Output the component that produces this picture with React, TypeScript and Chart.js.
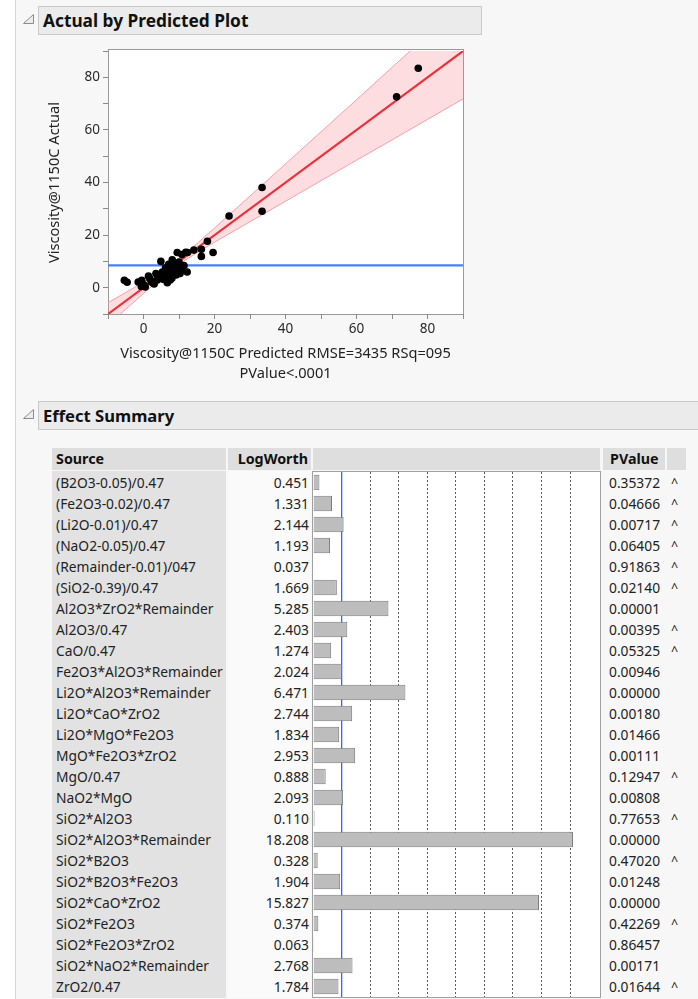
import React, { useEffect, useRef } from 'react';
import { Chart, registerables } from 'chart.js';

Chart.register(...registerables);

const FONT = '"Noto Sans", "Open Sans", sans-serif';
const TEXT = '#222222';

// ---------- Actual by Predicted data ----------
const predicted = [
  77.4, 71.3, 33.4, 33.4, 24.1, 18.0, 19.6, 16.3, 16.3, 14.2, 12.4, 10.8, 9.5, 11.9,
  -5.4, -4.6, -1.5, -0.5, 0.2, -0.6, 0.5, 1.4, 1.8, 2.6, 3.0, 3.5, 3.9, 4.2, 4.9, 5.3,
  5.5, 5.8, 6.2, 6.3, 6.6, 6.7, 6.9, 7.1, 7.3, 7.6, 7.9, 8.1, 8.3, 8.5, 8.8, 9.1, 9.3,
  9.6, 10.0, 10.3, 10.5, 10.9, 11.4, 12.3, 7.5, 5.0, 4.0, 2.2, 8.0,
];
const actual = [
  83.5, 72.6, 38.1, 29.1, 27.3, 17.7, 13.4, 14.6, 11.9, 14.3, 13.4, 12.6, 13.4, 13.5,
  2.8, 2.1, 2.2, 2.8, 1.0, 0.5, 0.3, 4.4, 3.4, 1.9, 1.4, 5.4, 2.9, 4.0, 10.0, 6.0,
  3.2, 4.3, 7.6, 2.9, 5.4, 1.9, 6.4, 8.9, 4.4, 7.3, 5.8, 10.6, 8.0, 6.6, 9.3, 6.8, 4.9,
  8.5, 9.8, 5.4, 7.8, 6.6, 8.4, 6.0, 2.9, 3.8, 3.3, 2.3, 3.6,
];
const fitX = [-10, 90];
const fitY = [-10, 90];
const meanActual = 8.5;
const bandX = [-10, -5, 0, 5, 8.6, 10, 15, 20, 30, 40, 50, 60, 70, 80, 90];
const bandLower = [-14.3, -8.2, -2.2, 3.7, 7.6, 8.95, 13.25, 17.3, 25.1, 32.9, 40.7, 48.5, 56.2, 64.0, 71.8];
const bandUpper = [-5.7, -1.8, 2.2, 6.3, 9.6, 11.05, 16.75, 22.7, 34.9, 47.1, 59.3, 71.5, 83.8, 96.0, 108.2];
const axisMin = -10;
const axisMax = 90;
const xTitle = ['Viscosity@1150C Predicted RMSE=3435 RSq=095', 'PValue<.0001'];
const yTitle = 'Viscosity@1150C Actual';

// ---------- Effect Summary data ----------
const sources = [
  '(B2O3-0.05)/0.47', '(Fe2O3-0.02)/0.47', '(Li2O-0.01)/0.47', '(NaO2-0.05)/0.47',
  '(Remainder-0.01)/047', '(SiO2-0.39)/0.47', 'Al2O3*ZrO2*Remainder', 'Al2O3/0.47',
  'CaO/0.47', 'Fe2O3*Al2O3*Remainder', 'Li2O*Al2O3*Remainder', 'Li2O*CaO*ZrO2',
  'Li2O*MgO*Fe2O3', 'MgO*Fe2O3*ZrO2', 'MgO/0.47', 'NaO2*MgO', 'SiO2*Al2O3',
  'SiO2*Al2O3*Remainder', 'SiO2*B2O3', 'SiO2*B2O3*Fe2O3', 'SiO2*CaO*ZrO2', 'SiO2*Fe2O3',
  'SiO2*Fe2O3*ZrO2', 'SiO2*NaO2*Remainder', 'ZrO2/0.47',
];
const logWorth = [
  0.451, 1.331, 2.144, 1.193, 0.037, 1.669, 5.285, 2.403, 1.274, 2.024, 6.471, 2.744,
  1.834, 2.953, 0.888, 2.093, 0.110, 18.208, 0.328, 1.904, 15.827, 0.374, 0.063, 2.768, 1.784,
];
const pValues = [
  '0.35372', '0.04666', '0.00717', '0.06405', '0.91863', '0.02140', '0.00001', '0.00395',
  '0.05325', '0.00946', '0.00000', '0.00180', '0.01466', '0.00111', '0.12947', '0.00808',
  '0.77653', '0.00000', '0.47020', '0.01248', '0.00000', '0.42269', '0.86457', '0.00171', '0.01644',
];
const containing = [
  true, true, true, true, true, true, false, true, true, false, false, false, false, false,
  true, false, true, false, true, false, false, true, false, false, true,
];
const logWorthMax = 20.1;
const logWorthRef = 2;

function Tri({ x, y }: { x: number; y: number }) {
  return (
    <svg style={{ position: 'absolute', left: x, top: y }} width={13} height={12}>
      <polygon points="1.5,10.5 11.5,1.5 11.5,10.5" fill="#ececec" stroke="#8c8c8c" strokeWidth={1} />
    </svg>
  );
}

function SectionHeader({ top, width, text, size }: { top: number; width: number; text: string; size: number }) {
  return (
    <>
      <Tri x={22} y={top + 7} />
      <div
        style={{
          position: 'absolute', left: 38, top, width, height: 29, boxSizing: 'border-box',
          background: '#ebebeb', border: '1px solid #c9c9c9', fontFamily: FONT, fontWeight: 700,
          fontSize: size, lineHeight: '27px', paddingLeft: 4, color: '#111', whiteSpace: 'nowrap',
        }}
      >
        {text}
      </div>
    </>
  );
}

function ScatterChart() {
  const ref = useRef<HTMLCanvasElement | null>(null);
  useEffect(() => {
    if (!ref.current) return;
    const pts = predicted.map((p, i) => ({ x: p, y: actual[i] }));
    const tickCb = (v: any) => {
      const n = Number(v);
      return n % 20 === 0 && n >= 0 && n <= 80 ? String(n) : '';
    };
    const chart = new Chart(ref.current, {
      type: 'line',
      data: {
        datasets: [
          {
            label: 'points', data: pts, showLine: false, pointRadius: 3.8, pointBackgroundColor: '#000',
            pointBorderWidth: 0, borderColor: '#000', order: 0,
          } as any,
          {
            label: 'mean', data: [{ x: axisMin, y: meanActual }, { x: axisMax, y: meanActual }],
            borderColor: '#4a7ff2', borderWidth: 2.2, pointRadius: 0, order: 1,
          },
          {
            label: 'fit', data: fitX.map((x, i) => ({ x, y: fitY[i] })),
            borderColor: '#e8333c', borderWidth: 2.2, pointRadius: 0, order: 2,
          },
          {
            label: 'lower', data: bandX.map((x, i) => ({ x, y: bandLower[i] })),
            borderColor: '#f3a0a6', borderWidth: 1, pointRadius: 0, order: 3, fill: false,
          },
          {
            label: 'upper', data: bandX.map((x, i) => ({ x, y: bandUpper[i] })),
            borderColor: '#f3a0a6', borderWidth: 1, pointRadius: 0, order: 4,
            fill: { target: 3 }, backgroundColor: 'rgba(250, 150, 160, 0.32)',
          } as any,
        ],
      },
      options: {
        animation: false,
        responsive: false,
        layout: { padding: { top: 9, right: 17, left: 0, bottom: 0 } },
        plugins: { legend: { display: false }, tooltip: { enabled: false } },
        scales: {
          x: {
            type: 'linear', min: axisMin, max: axisMax,
            afterFit: (s: any) => { s.height = 76; },
            border: { display: false },
            grid: { drawOnChartArea: false, drawTicks: true, tickLength: 5, color: '#8a8a8a' },
            ticks: {
              stepSize: 10, autoSkip: false, maxRotation: 0, padding: 2, color: '#2a2a2a',
              font: { family: FONT, size: 13.5 }, callback: tickCb,
            },
            title: {
              display: true, text: xTitle, color: '#222', font: { family: FONT, size: 14.6, lineHeight: 1.37 },
              padding: { top: 0, bottom: 6 },
            },
          },
          y: {
            type: 'linear', min: axisMin, max: axisMax,
            afterFit: (s: any) => { s.width = 68; },
            border: { display: false },
            grid: { drawOnChartArea: false, drawTicks: true, tickLength: 5, color: '#8a8a8a' },
            ticks: {
              stepSize: 10, autoSkip: false, padding: 3, color: '#2a2a2a',
              font: { family: FONT, size: 13.5 }, callback: tickCb,
            },
            title: {
              display: true, text: yTitle, color: '#222', font: { family: FONT, size: 14.6, lineHeight: 1.2 },
              padding: { top: 6, bottom: 0 },
            },
          },
        },
      } as any,
    });
    return () => chart.destroy();
  }, []);
  return (
    <>
      <div style={{ position: 'absolute', left: 108, top: 49, width: 356, height: 266, boxSizing: 'border-box', background: '#fff', border: '1px solid #9a9a9a' }} />
      <canvas ref={ref} width={440} height={350} style={{ position: 'absolute', left: 40, top: 40, width: 440, height: 350 }} />
    </>
  );
}

function BarChart() {
  const ref = useRef<HTMLCanvasElement | null>(null);
  useEffect(() => {
    if (!ref.current) return;
    const chart = new Chart(ref.current, {
      type: 'bar',
      data: {
        labels: sources,
        datasets: [
          {
            data: logWorth, backgroundColor: '#bdbdbd', borderColor: '#7c7c7c', borderWidth: 1,
            barPercentage: 0.74, categoryPercentage: 1, xAxisID: 'x',
          },
        ],
      },
      options: {
        animation: false,
        responsive: false,
        indexAxis: 'y',
        layout: { padding: 0 },
        plugins: { legend: { display: false }, tooltip: { enabled: false } },
        scales: {
          x: {
            type: 'linear', min: 0, max: logWorthMax, display: true, position: 'bottom',
            border: { display: false, dash: [2, 2], dashOffset: 0 },
            grid: {
              drawTicks: false, lineWidth: 1,
              color: (c: any) => {
                const v = c.tick ? c.tick.value : -1;
                if (v > 0 && v < 19.9 && v !== logWorthRef) return '#5a5a5a';
                return 'rgba(0,0,0,0)';
              },
            },
            ticks: { stepSize: 2, display: false },
          },
          xRef: {
            type: 'linear', min: 0, max: logWorthMax, display: true, position: 'bottom',
            border: { display: false },
            afterBuildTicks: (s: any) => { s.ticks = [{ value: logWorthRef }]; },
            grid: { drawTicks: false, color: '#3366ff', lineWidth: 1.3 },
            ticks: { display: false },
          },
          y: { display: false },
        },
      } as any,
    });
    return () => chart.destroy();
  }, []);
  return (
    <div style={{ position: 'absolute', left: 312, top: 471, width: 289, height: 527, boxSizing: 'border-box', background: '#fff', border: '1px solid #a0a0a0' }}>
      <canvas ref={ref} width={287} height={525} style={{ display: 'block', width: 287, height: 525 }} />
    </div>
  );
}

export default function App() {
  const hdr = (left: number, width: number): React.CSSProperties => ({
    position: 'absolute', left, top: 448, width, height: 22, background: '#dedede',
    fontFamily: FONT, fontWeight: 700, fontSize: 14.3, lineHeight: '22px', color: '#111', boxSizing: 'border-box',
    whiteSpace: 'nowrap',
  });
  const rowStyle = (i: number): React.CSSProperties => ({
    position: 'absolute', top: 472 + 21 * i, height: 21, lineHeight: '21px', fontFamily: FONT,
    fontSize: 13.8, color: TEXT, whiteSpace: 'nowrap',
  });
  return (
    <div style={{ position: 'fixed', left: 0, top: 0, width: 698, height: 999, overflow: 'hidden', background: '#f7f7f7' }}>
      <div style={{ position: 'absolute', left: 0, top: 0, width: 15, height: 999, background: '#fff', borderRight: '1px solid #d4d4d4' }} />
      <SectionHeader top={6} width={444} text="Actual by Predicted Plot" size={17.3} />
      <ScatterChart />
      <SectionHeader top={401} width={680} text="Effect Summary" size={16.6} />

      <div style={{ ...hdr(52, 174), paddingLeft: 4 }}>Source</div>
      <div style={{ ...hdr(228, 83), textAlign: 'right', paddingRight: 3 }}>LogWorth</div>
      <div style={hdr(313, 287)} />
      <div style={{ ...hdr(603, 62), paddingLeft: 7 }}>PValue</div>
      <div style={hdr(667, 19)} />

      <div style={{ position: 'absolute', left: 52, top: 471, width: 174, height: 527, background: '#e2e2e2' }} />
      <div style={{ position: 'absolute', left: 228, top: 471, width: 83, height: 527, background: '#fafafa' }} />
      <BarChart />

      {sources.map((s, i) => (
        <div key={'s' + i} style={{ ...rowStyle(i), left: 56 }}>{s}</div>
      ))}
      {logWorth.map((v, i) => (
        <div key={'l' + i} style={{ ...rowStyle(i), left: 228, width: 81, textAlign: 'right' }}>{v.toFixed(3)}</div>
      ))}
      {pValues.map((p, i) => (
        <div key={'p' + i} style={{ ...rowStyle(i), left: 609 }}>{p}</div>
      ))}
      {containing.map((c, i) =>
        c ? (
          <div key={'c' + i} style={{ ...rowStyle(i), left: 671, fontSize: 12.5 }}>^</div>
        ) : null
      )}
    </div>
  );
}
